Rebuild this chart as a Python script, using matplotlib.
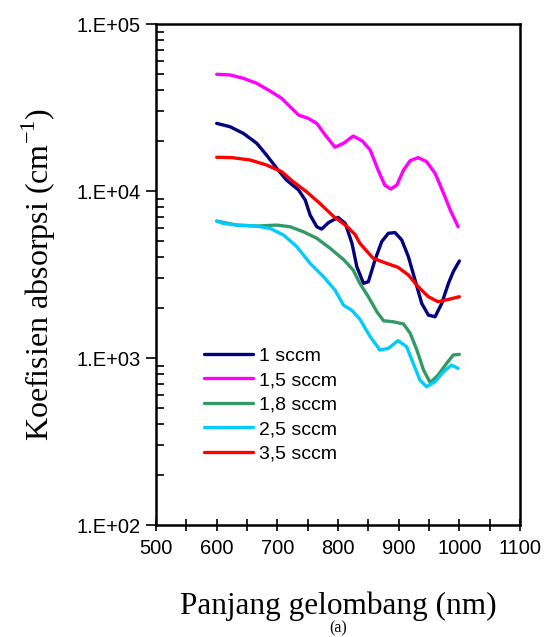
import matplotlib
matplotlib.use('Agg')
import matplotlib.pyplot as plt
from matplotlib.ticker import LogLocator, FixedLocator, NullFormatter

plt.rcParams['font.family'] = 'Liberation Sans'

# wavelength (nm) and log10 of absorption coefficient (cm^-1)
x_1 = [600, 622, 644, 666, 682, 699, 715, 735, 746, 754, 765, 773, 784, 800, 812, 823, 831, 842,
       850, 861, 872, 883, 894, 905, 916, 927, 938, 949, 960, 971, 982, 990, 1000]
log_1 = [4.405, 4.385, 4.345, 4.286, 4.216, 4.136, 4.066, 4.006, 3.946, 3.856, 3.786, 3.772, 3.81,
         3.842, 3.806, 3.687, 3.547, 3.447, 3.457, 3.587, 3.697, 3.747, 3.751, 3.707, 3.607, 3.467,
         3.327, 3.257, 3.247, 3.327, 3.447, 3.517, 3.581]

x_15 = [600, 622, 644, 666, 688, 707, 721, 735, 751, 765, 779, 795, 809, 825, 840, 853, 866, 877,
        887, 897, 908, 919, 932, 946, 960, 974, 985, 998]
log_15 = [4.699, 4.695, 4.675, 4.645, 4.599, 4.555, 4.505, 4.455, 4.435, 4.405, 4.335, 4.262, 4.286,
          4.329, 4.3, 4.246, 4.126, 4.036, 4.012, 4.036, 4.126, 4.182, 4.2, 4.176, 4.106, 3.986,
          3.886, 3.786]

x_18 = [600, 633, 666, 699, 721, 743, 765, 787, 809, 825, 836, 850, 864, 875, 891, 908, 919, 930,
        941, 952, 965, 979, 990, 1000]
log_18 = [3.82, 3.796, 3.79, 3.796, 3.786, 3.756, 3.717, 3.657, 3.59, 3.527, 3.447, 3.367, 3.277,
          3.223, 3.217, 3.204, 3.148, 3.048, 2.928, 2.852, 2.898, 2.968, 3.018, 3.022]

x_25 = [600, 611, 633, 666, 688, 710, 732, 754, 776, 795, 809, 823, 836, 853, 869, 883, 899, 913,
        924, 935, 946, 960, 974, 987, 998]
log_25 = [3.82, 3.806, 3.796, 3.79, 3.776, 3.737, 3.667, 3.567, 3.487, 3.407, 3.317, 3.285, 3.233,
          3.128, 3.048, 3.058, 3.104, 3.068, 2.968, 2.868, 2.828, 2.858, 2.918, 2.958, 2.938]

x_35 = [600, 625, 655, 682, 707, 726, 748, 770, 792, 814, 828, 836, 858, 880, 899, 916, 932, 949,
        965, 982, 1000]
log_35 = [4.202, 4.2, 4.186, 4.156, 4.116, 4.056, 3.996, 3.926, 3.85, 3.79, 3.74, 3.687, 3.597,
          3.567, 3.543, 3.497, 3.427, 3.367, 3.337, 3.351, 3.367]

labels = ['1 sccm', '1,5 sccm', '1,8 sccm', '2,5 sccm', '3,5 sccm']
colors = ['#000080', '#FF00FF', '#339966', '#00CCFF', '#FF0000']

fig = plt.figure(figsize=(5.44, 6.37), dpi=100)
ax = fig.add_axes([0.2868, 0.1758, 0.6691, 0.7865])

series = [(x_1, log_1), (x_15, log_15), (x_18, log_18), (x_25, log_25), (x_35, log_35)]
for (xs, ls), lab, col in zip(series, labels, colors):
    ax.plot(xs, [10 ** v for v in ls], color=col, lw=2.4, label=lab,
            solid_capstyle='round', solid_joinstyle='round')

ax.set_yscale('log')
ax.set_ylim(1e2, 1e5)
ax.set_xlim(500, 1100)

ax.xaxis.set_major_locator(FixedLocator(range(500, 1101, 100)))
ax.xaxis.set_minor_locator(FixedLocator(range(550, 1100, 100)))
ax.tick_params(axis='x', which='both', direction='inout', length=8, width=1.2, labelsize=14.5, pad=6)

ax.yaxis.set_minor_locator(LogLocator(base=10, subs=range(2, 10), numticks=10))
ax.yaxis.set_minor_formatter(NullFormatter())
ax.set_yticks([1e2, 1e3, 1e4, 1e5])
ax.set_yticklabels(['1.E+02', '1.E+03', '1.E+04', '1.E+05'])
ax.tick_params(axis='y', which='major', direction='out', length=7, width=1.2, labelsize=14.5, pad=4)
ax.tick_params(axis='y', which='minor', direction='in', length=6, width=1.2)

for s in ax.spines.values():
    s.set_linewidth(1.8)

ax.set_xlabel('Panjang gelombang (nm)', family='Liberation Serif', fontsize=22.5, labelpad=24)
ax.set_ylabel(r'Koefisien absorpsi (cm$^{\mathregular{-1}}$)', family='Liberation Serif',
              fontsize=23, labelpad=13)
fig.text(0.621, 0.008, '(a)', family='Liberation Serif', fontsize=11.5, ha='center')

ax.legend(loc='upper left', bbox_to_anchor=(0.132, 0.355), frameon=False, fontsize=14,
          handlelength=2.5, handletextpad=0.3, labelspacing=0.35, borderpad=0, borderaxespad=0)

fig.savefig('out.png', dpi=100)
